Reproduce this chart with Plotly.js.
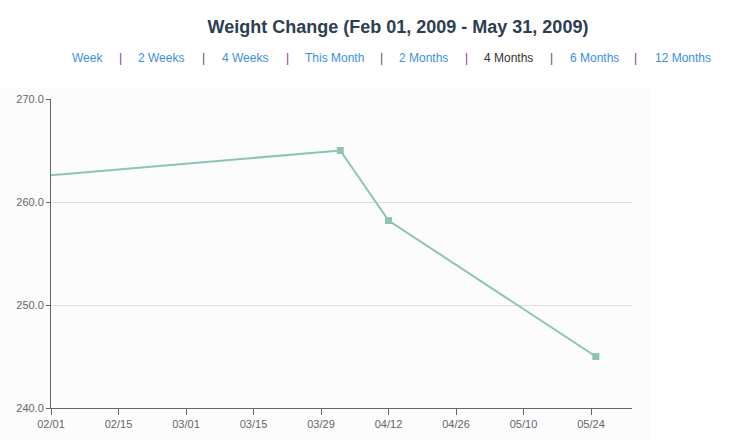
<!DOCTYPE html>
<html>
<head>
<meta charset="utf-8">
<script src="https://cdn.plot.ly/plotly-3.0.1.min.js"></script>
<style>html,body{margin:0;padding:0;background:#fff;}#chart{width:740px;height:440px;}</style>
</head>
<body>
<div id="chart"></div>
<script>
const dates = ['2009-02-01', '2009-04-02', '2009-04-12', '2009-05-25'];
const weights = [262.6, 265.0, 258.2, 245.0];
const navLabels = ['Week', '2 Weeks', '4 Weeks', 'This Month', '2 Months', '4 Months', '6 Months', '12 Months'];
const navActive = '4 Months';
const titleText = 'Weight Change (Feb 01, 2009 - May 31, 2009)';

const lineColor = '#8cc4b8';
const navX = [87, 161, 245, 334, 423, 508, 594, 683];
const sepX = [120, 203, 287, 381, 466, 551, 636];
const sepColors = ['#7a3c9c', '#3f5f45', '#7a3c9c', '#3f5f45', '#7a3c9c', '#3f5f45', '#7a3c9c'];

const annotations = [];
navLabels.forEach((t, i) => {
  annotations.push({
    text: t, xref: 'paper', yref: 'paper',
    x: (navX[i] - 51) / 581, y: 1 + (99 - 58) / 309,
    xanchor: 'center', yanchor: 'middle', showarrow: false,
    font: {family: 'Liberation Sans, Arial, sans-serif', size: 12, color: t === navActive ? '#333333' : '#3d8ee0'}
  });
});
sepX.forEach((x, i) => {
  annotations.push({
    text: '|', xref: 'paper', yref: 'paper',
    x: (x - 51) / 581, y: 1 + (99 - 58) / 309,
    xanchor: 'center', yanchor: 'middle', showarrow: false,
    font: {family: 'Liberation Sans, Arial, sans-serif', size: 12, color: sepColors[i]}
  });
});

const traces = [
  {x: dates, y: weights, type: 'scatter', mode: 'lines', line: {color: lineColor, width: 2}, hoverinfo: 'x+y', cliponaxis: false},
  {x: dates.slice(1), y: weights.slice(1), type: 'scatter', mode: 'markers', marker: {color: lineColor, size: 7, symbol: 'square'}, hoverinfo: 'x+y', cliponaxis: false}
];

const tickFont = {family: 'Liberation Sans, Arial, sans-serif', size: 11, color: '#666666'};

const layout = {
  width: 740, height: 440,
  margin: {l: 51, r: 108, t: 99, b: 32, pad: 0},
  paper_bgcolor: '#ffffff',
  plot_bgcolor: 'rgba(0,0,0,0)',
  showlegend: false,
  title: {
    text: '<b>' + titleText + '</b>',
    x: 398 / 740, xanchor: 'center', xref: 'container',
    y: 1 - 27 / 440, yanchor: 'middle', yref: 'container',
    font: {family: 'Liberation Sans, Arial, sans-serif', size: 18, color: '#2c3e50'}
  },
  xaxis: {
    type: 'date',
    range: ['2009-02-01', '2009-06-01 12:00'],
    tick0: '2009-02-01', dtick: 14 * 86400000,
    tickformat: '%m/%d',
    ticks: 'outside', ticklen: 6, tickcolor: '#666666', tickwidth: 1,
    showline: true, linecolor: '#666666', linewidth: 1,
    showgrid: false, zeroline: false,
    tickfont: tickFont
  },
  yaxis: {
    range: [240, 270], dtick: 10, tick0: 240,
    tickformat: '.1f',
    ticks: 'outside', ticklen: 4, tickcolor: '#666666', tickwidth: 1,
    showline: true, linecolor: '#666666', linewidth: 1,
    showgrid: true, gridcolor: '#dddddd', gridwidth: 1,
    zeroline: false,
    tickfont: tickFont
  },
  shapes: [{
    type: 'rect', xref: 'paper', yref: 'paper', layer: 'below',
    x0: -51 / 581, x1: (650 - 51) / 581, y0: -32 / 309, y1: 1 + (99 - 88) / 309,
    fillcolor: '#fcfcfc', line: {width: 0}
  }],
  annotations: annotations
};

Plotly.newPlot('chart', traces, layout, {displayModeBar: false, staticPlot: true});
</script>
</body>
</html>
